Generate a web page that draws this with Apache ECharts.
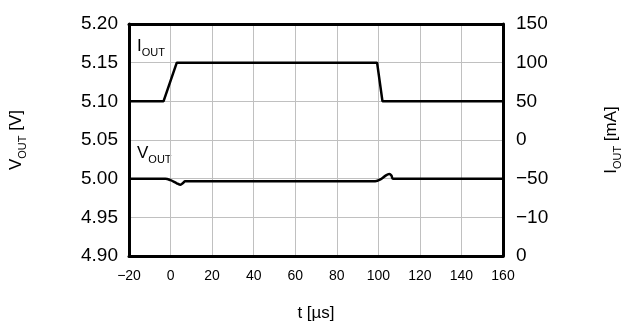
<!DOCTYPE html>
<html>
<head>
<meta charset="utf-8">
<script src="https://cdn.jsdelivr.net/npm/echarts@6/dist/echarts.min.js"></script>
<style>
html, body { margin: 0; padding: 0; background: #fff; }
#chart { width: 621px; height: 331px; }
</style>
</head>
<body>
<div id="chart"></div>
<script>
// time in µs
const voutData = [
    [-20, 5.000], [-2.5, 5.000], [0, 4.998], [3, 4.994], [4.8, 4.9922], [6, 4.9945],
    [7, 4.9965], [98.5, 4.9965], [101, 4.999], [103.5, 5.004], [105.3, 5.006],
    [106.3, 5.004], [107, 5.000], [160, 5.000]
]
const ioutData = [
    [-20, 50], [-3.4, 50], [3, 100], [99.4, 100], [102, 50], [160, 50]
]
// right axis labels as printed, bottom to top
const rightLabels = ['0', '\u221210', '\u221250', '0', '50', '100', '150']

const font = 'Liberation Sans, Arial, sans-serif'
const sub = { fontSize: 11, fontFamily: font, color: '#000', verticalAlign: 'bottom', padding: [0, 0, -3, 0] }
const frame = { show: true, onZero: false, lineStyle: { color: '#000', width: 3 } }

let myChart = echarts.init(document.getElementById('chart'))

myChart.setOption({
    animation: false,
    grid: {
        left: 129, right: 118, top: 24, bottom: 75,
        outerBoundsMode: 'none', containLabel: false
    },
    xAxis: [{
        type: 'value', min: -20, max: 160, interval: 20,
        axisLine: frame,
        axisTick: { show: false },
        splitLine: { lineStyle: { color: '#c0c0c0', width: 1 } },
        axisLabel: {
            color: '#000', fontSize: 14, fontFamily: font, margin: 13,
            formatter: v => v < 0 ? '\u2212' + Math.abs(v) : String(v)
        },
        name: 't [\u00b5s]', nameLocation: 'middle', nameGap: 49,
        nameTextStyle: { color: '#000', fontSize: 17, fontFamily: font }
    }, {
        // top frame line
        type: 'value', position: 'top', min: -20, max: 160, interval: 20,
        axisLine: frame, axisTick: { show: false }, axisLabel: { show: false }, splitLine: { show: false }
    }],
    yAxis: [{
        type: 'value', min: 4.90, max: 5.20, interval: 0.05,
        axisLine: frame,
        axisTick: { show: false },
        splitLine: { lineStyle: { color: '#c0c0c0', width: 1 } },
        axisLabel: {
            color: '#000', fontSize: 19, fontFamily: font, margin: 11,
            formatter: v => v.toFixed(2)
        },
        name: '{m|V}{s|OUT}{m| [V]}', nameLocation: 'middle', nameGap: 104, nameRotate: 90,
        nameTextStyle: { rich: { m: { fontSize: 17, fontFamily: font, color: '#000' }, s: sub } }
    }, {
        type: 'value', min: -150, max: 150, interval: 50,
        axisLine: frame,
        axisTick: { show: false },
        splitLine: { show: false },
        axisLabel: {
            color: '#000', fontSize: 19, fontFamily: font, margin: 13,
            formatter: v => rightLabels[Math.round((v + 150) / 50)]
        },
        name: '{m|I}{s|OUT}{m| [mA]}', nameLocation: 'middle', nameGap: 100, nameRotate: 90,
        nameTextStyle: { rich: { m: { fontSize: 17, fontFamily: font, color: '#000' }, s: sub } }
    }],
    graphic: [{
        type: 'text', left: 137, top: 38,
        style: {
            text: '{m|I}{s|OUT}',
            rich: { m: { fontSize: 17, fontFamily: font, fill: '#000' }, s: Object.assign({}, sub, { fill: '#000' }) }
        }
    }, {
        type: 'text', left: 137, top: 145,
        style: {
            text: '{m|V}{s|OUT}',
            rich: { m: { fontSize: 17, fontFamily: font, fill: '#000' }, s: Object.assign({}, sub, { fill: '#000' }) }
        }
    }],
    series: [{
        name: 'VOUT', type: 'line', yAxisIndex: 0, data: voutData,
        showSymbol: false, smooth: 0.3,
        lineStyle: { color: '#000', width: 2.5 }
    }, {
        name: 'IOUT', type: 'line', yAxisIndex: 1, data: ioutData,
        showSymbol: false,
        lineStyle: { color: '#000', width: 2.5 }
    }]
})
</script>
</body>
</html>
